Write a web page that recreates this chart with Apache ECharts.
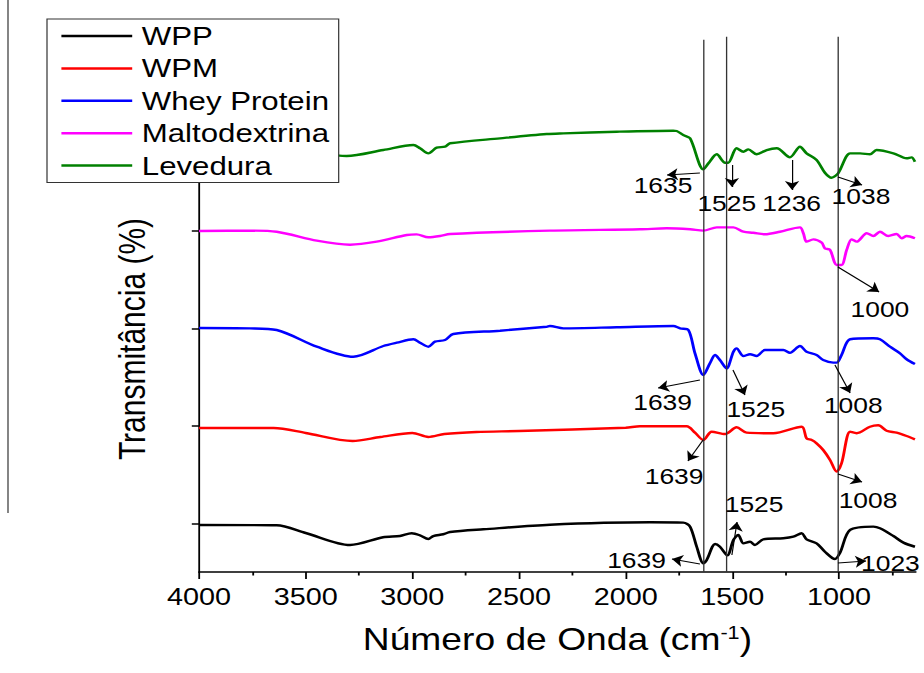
<!DOCTYPE html>
<html><head><meta charset="utf-8">
<script src="https://cdn.jsdelivr.net/npm/echarts@6/dist/echarts.min.js"></script>
<style>
html,body{margin:0;padding:0;overflow:hidden;background:#fff;}
#chart{width:770px;height:673px;transform:scaleX(1.2);transform-origin:0 0;}
</style></head><body><div id="chart"></div>
<script>
// ---- data (wavenumber cm-1, transmittance offset units) ----
const seriesNames = ['WPP','WPM','Whey Protein','Maltodextrina','Levedura'];
const xLabelTicks = [4000,3500,3000,2500,2000,1500,1000];
const xMinorTicks = [3750,3250,2750,2250,1750,1250,750];
const yTicks = [50,150,250,350,450];
const refLines = [1636,1530,1005];

const wppWave = [4000,3636,3500,3292,3137,3058,3003,2964,2925,2902,2855,2823,2667,2355,1886,1730,1698,1667,1636,1620,1581,1558,1523,1495,1472,1448,1417,1394,1355,1261,1214,1175,1152,1105,1066,1019,995,948,839,808,745,698,644];
const wppT = [48.2,47.9,40.0,27.7,35.6,36.9,39.7,37.6,33.8,36.9,38.7,41.0,43.8,48.5,51.0,50.6,46.5,25.9,8.9,12.3,28.7,25.9,17.1,32.8,37.9,29.4,31.1,27.7,33.5,34.6,36.2,39.7,33.5,29.4,20.8,13.3,19.8,43.1,46.5,44.8,36.9,30.1,25.9];

const wpmWave = [4000,3650,3500,3280,3150,3000,2925,2850,2700,2500,2000,1933,1714,1675,1636,1597,1534,1480,1433,1308,1175,1152,1128,1105,1074,1042,1011,988,948,917,855,816,777,730,683,644];
const wpmT = [147.7,147.7,142.6,134.4,138.5,142.6,138.5,141.5,143.6,144.6,148.0,149.5,149.5,142.9,135.4,143.9,141.5,148.4,142.9,142.3,149.0,137.1,135.4,132.0,125.1,114.9,102.9,111.5,143.9,142.3,149.0,150.5,144.9,142.9,139.5,136.1];

const wheyWave = [4000,3761,3636,3448,3277,3136,3073,2995,2964,2925,2894,2847,2808,2589,2370,2355,2292,2042,1777,1745,1706,1675,1636,1605,1581,1558,1527,1495,1480,1448,1417,1386,1347,1261,1230,1183,1152,1105,1074,1027,1011,988,948,839,808,761,714,683,644];
const wheyT = [250.3,249.9,248.2,231.1,220.8,231.8,235.2,238.7,235.2,231.1,236.2,237.9,244.1,247.5,251.6,252.3,249.9,251.0,252.3,249.9,248.2,224.3,202.1,214.1,222.6,217.4,208.9,225.9,229.4,221.5,223.3,221.5,227.7,227.7,224.9,231.8,225.9,222.6,217.4,214.7,214.7,222.6,238.7,239.7,238.7,231.1,224.3,218.2,213.3];

const maltoWave = [4000,3761,3636,3448,3292,3167,3026,2980,2925,2870,2823,2355,1933,1808,1698,1636,1573,1495,1448,1402,1347,1277,1183,1167,1152,1120,1081,1066,1042,1011,988,964,941,917,870,839,808,769,730,706,683,644];
const maltoT = [349.7,350.1,349.0,339.8,335.7,338.8,345.6,346.3,343.3,344.6,346.7,350.1,351.5,352.5,351.5,350.1,353.5,353.5,349.0,348.0,346.4,349.0,353.5,347.4,338.8,341.2,337.7,332.0,330.3,314.9,314.9,330.3,341.2,338.8,347.4,344.6,349.0,344.6,346.7,342.3,344.6,342.3];

const levWave = [4000,3650,3450,3308,3136,2995,2964,2925,2886,2847,2823,2589,2370,2292,2042,1777,1761,1730,1698,1636,1612,1573,1534,1519,1480,1448,1425,1386,1339,1292,1230,1183,1152,1105,1066,1035,1004,948,901,855,824,745,683,660,644];
const levT = [435.9,435.9,429.7,426.7,432.8,437.9,434.6,429.4,435.2,436.2,439.7,444.8,449.2,449.9,451.6,452.6,452.3,448.2,444.8,413.0,419.2,428.4,419.8,419.8,434.6,431.1,433.5,428.4,432.8,434.6,425.3,436.2,429.4,422.6,409.5,404.4,408.9,429.4,429.4,428.4,432.8,429.4,424.3,425.3,420.8];

// peak annotations: label, text centre, arrow start, arrow end (data coords)
const annotations = [
  {label:'1635', text:[1825,396.1], from:[1652,409.2], to:[1806,407.2]},
  {label:'1525', text:[1526,378.1], from:[1502,417.4], to:[1502,394.9]},
  {label:'1236', text:[1222,378.1], from:[1220,422.6], to:[1220,391.8]},
  {label:'1038', text:[897,384.9],  from:[1005,405.1], to:[892,396.9]},
  {label:'1000', text:[808,269.2],  from:[1005,312.8], to:[812,287.2]},
  {label:'1639', text:[1827,173.8], from:[1652,196.9], to:[1848,188.7]},
  {label:'1525', text:[1390,167.2], from:[1497,207.2], to:[1441,181.5]},
  {label:'1008', text:[933,171.3],  from:[1019,212.3], to:[948,183.6]},
  {label:'1639', text:[1773,97.7],  from:[1637,135.4], to:[1708,113.8]},
  {label:'1008', text:[864,73.8],   from:[1005,100.5], to:[892,92.3]},
  {label:'1525', text:[1398,69.5],  from:[1502,17.4],  to:[1478,51.3]},
  {label:'1639', text:[1949,11.8],  from:[1652,8.2],   to:[1783,13.3]},
  {label:'1023', text:[759,8.9],    from:[1005,9.2],   to:[873,11.3]}
];

const colors = ['#000000','#ff0000','#0000ff','#ff00ff','#008000'];
const waves = [wppWave,wpmWave,wheyWave,maltoWave,levWave];
const trans = [wppT,wpmT,wheyT,maltoT,levT];

const FONT = 'Liberation Sans, Arial, sans-serif';
const SX = 1.2, W = 924/SX, H = 673;

function pairs(w,t){ return w.map((x,i)=>[x,t[i]]); }

const chart = echarts.init(document.getElementById('chart'), null, {renderer:'svg', width:W, height:H});

const dataSeries = seriesNames.map((n,i)=>({
  type:'line', name:n, data:pairs(waves[i],trans[i]), symbol:'none', showSymbol:false,
  smooth:0.3, lineStyle:{color:colors[i], width:2.4}, itemStyle:{color:colors[i]}, z:3,
  emphasis:{disabled:true}
}));

const annotSeries = {
  type:'line', name:'__annot', data:[], symbol:'none', silent:true, z:4,
  markLine:{
    silent:true, animation:false, symbol:['none','arrow'], symbolSize:9, precision:4,
    label:{show:false}, emphasis:{disabled:true},
    lineStyle:{color:'#000', width:1, type:'solid'},
    data: [
      ...refLines.map((x,i)=>[
        {coord:[x,0], symbol:'none', lineStyle:{color:'#333', width:1.1, type:'solid'}},
        {coord:[x,i===0?546:549], symbol:'none'}]),
      ...annotations.map(a=>[
        {coord:a.from, symbol:'none', lineStyle:{color:'#000', width:1, type:'solid'}},
        {coord:a.to, symbol:'arrow'}])
    ]
  },
  markPoint:{
    silent:true, animation:false, symbol:'rect', symbolSize:1,
    itemStyle:{color:'rgba(0,0,0,0)'},
    label:{show:true, position:'inside', color:'#000', fontSize:22, fontFamily:FONT, formatter:p=>p.name},
    data: annotations.map(a=>({name:a.label, coord:a.text}))
  }
};

const gridLeft = 199/SX, gridRight = W - 915.8/SX;

chart.setOption({
  animation:false,
  textStyle:{fontFamily:FONT, color:'#000'},
  grid:{left:gridLeft, right:gridRight, top:35.75, bottom:101, containLabel:false, outerBoundsMode:'none'},
  legend:{
    data:seriesNames, orient:'vertical', left:47/SX, top:19, padding:[3,8,3,12],
    icon:'rect', itemWidth:59, itemHeight:2.5, itemGap:4.4, backgroundColor:'#fff',
    borderColor:'#333', borderWidth:1, borderRadius:0, selectedMode:false, z:10,
    textStyle:{fontSize:26, color:'#000', lineHeight:28, fontFamily:FONT, padding:[0,0,0,3]}
  },
  xAxis:[{
    type:'value', inverse:true, min:640, max:4000,
    name:'Número de Onda (cm{sup|-1})', nameLocation:'middle', nameGap:52,
    nameTextStyle:{fontSize:31, color:'#000', fontFamily:FONT,
      rich:{sup:{fontSize:18, verticalAlign:'top', color:'#000', fontFamily:FONT}}},
    axisLine:{show:true, lineStyle:{color:'#000', width:1.5}},
    axisTick:{show:true, length:7, inside:false, customValues:xLabelTicks, lineStyle:{color:'#000', width:1.5}},
    axisLabel:{show:true, customValues:xLabelTicks, fontSize:24, color:'#000', margin:13, fontFamily:FONT, formatter:v=>String(v)},
    splitLine:{show:false}
  },{
    type:'value', inverse:true, min:640, max:4000, position:'bottom', offset:0,
    axisLine:{show:false},
    axisTick:{show:true, length:3.5, inside:false, customValues:xMinorTicks, lineStyle:{color:'#000', width:1.5}},
    axisLabel:{show:false}, splitLine:{show:false}
  }],
  yAxis:{
    type:'value', min:0, max:550,
    axisLine:{show:true, lineStyle:{color:'#000', width:1.5}},
    axisTick:{show:true, length:6, inside:false, customValues:yTicks, lineStyle:{color:'#000', width:1.5}},
    axisLabel:{show:false}, splitLine:{show:false}
  },
  graphic:[
    {type:'text', x:133/SX, y:339, rotation:Math.PI/2, silent:true,
     style:{text:'Transmitância (%)', fontSize:30, fontFamily:FONT, fill:'#000', align:'center', verticalAlign:'middle'}},
    {type:'line', silent:true, shape:{x1:8/SX, y1:0, x2:8/SX, y2:513}, style:{stroke:'#333', lineWidth:1}}
  ],
  series:[...dataSeries, annotSeries]
});
</script></body></html>
